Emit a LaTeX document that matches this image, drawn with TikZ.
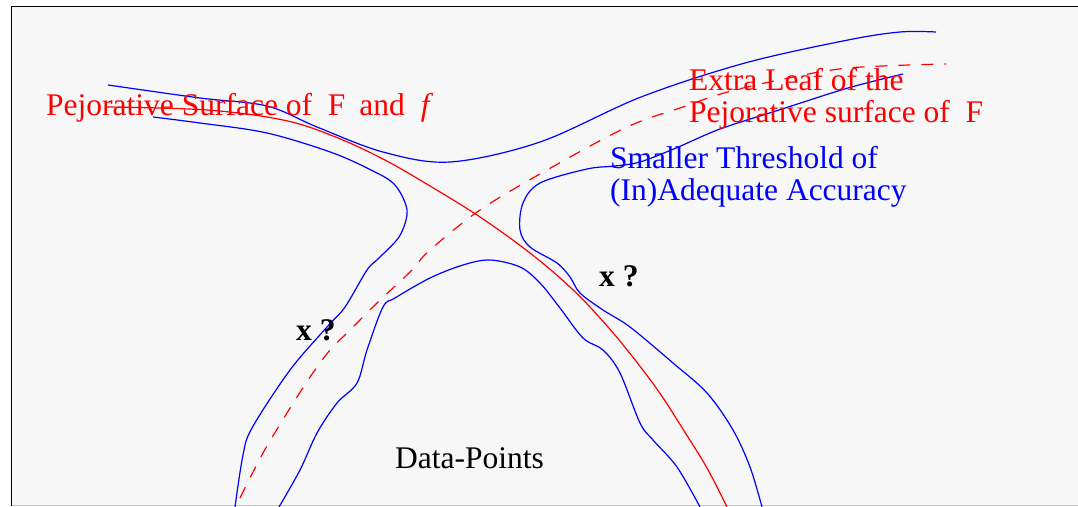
\documentclass[tikz,border=0pt]{standalone}
\usepackage{fontspec}
\setmainfont{Liberation Serif}
\definecolor{bgc}{HTML}{F7F7F7}
\definecolor{edgegray}{HTML}{C8C8C8}
\begin{document}
\begin{tikzpicture}[x=1pt,y=-1pt,
  bl/.style={draw=blue, line width=1.2pt},
  rd/.style={draw=red, line width=1.2pt},
  rdash/.style={draw=red, line width=1.2pt, dash pattern=on 12pt off 11pt},
  txt/.style={inner sep=0pt, anchor=base west, font=\fontsize{31.5}{32}\selectfont, align=left},
  redtxt/.style={txt, text=red},
  bluetxt/.style={txt, text=blue},
  qtxt/.style={txt, text=black, font=\fontsize{31.5}{32}\selectfont\bfseries}
]
\useasboundingbox (0,0) rectangle (1078,506);
\fill[bgc] (11.5,6.5) rectangle (1078,505);
\draw[black, line width=1.4pt] (11.5,506) -- (11.5,6.5) -- (1078,6.5);
\draw[edgegray, line width=1pt] (11.5,505.5) -- (1078,505.5);

% outer upper blue curve
\draw[bl] plot[smooth, tension=0.55] coordinates {(108,85) (200,98) (267,106) (317,127) (383,152) (450,162) (540,142) (641,97) (745,63) (848,40) (900,32) (936,32)};
% left blue curve
\draw[bl] plot[smooth, tension=0.55] coordinates {(153,117) (200,123) (267,133) (333,153) (377,173) (394,184) (404,200) (407,215) (399,237) (379,258) (367,270) (345,307) (327,327) (290,370) (252,428) (243,455) (235,507)};
% inner arch
\draw[bl] plot[smooth, tension=0.55] coordinates {(279,507) (300,470) (317,433) (337,403) (357,383) (367,350) (383,307) (395,298) (430,278) (463,265) (490,260) (520,267) (540,283) (560,308) (583,338) (603,350) (620,373) (640,423) (653,440) (677,467) (700,507)};
% right blue curve
\draw[bl] plot[smooth, tension=0.55] coordinates {(762,507) (750,467) (733,430) (707,393) (673,363) (630,327) (603,310) (580,293) (570,277) (557,263) (530,247) (520,230) (523,203) (540,183) (587,169) (615,166) (640,162) (676,148) (720,129) (779,110) (848,88) (903,74)};
% red solid curve
\draw[rd] plot[smooth, tension=0.6] coordinates {(107,107) (207,110) (283,120) (333,136) (383,159) (430,186) (480,217) (530,253) (570,287) (600,318) (628,351) (659,392) (686,434) (707,468) (727,507)};
% red dashed curve
\draw[rdash] plot[smooth, tension=0.55] coordinates {(240,498) (263,453) (287,413) (310,377) (330,350) (347,333) (377,303) (410,272) (430,250) (480,210) (547,170) (627,127) (683,107) (724,93) (779,80) (848,68) (946,64)};

\node[redtxt] (pej) at (46,115) {Pejorative Surface of\ \ F\hspace{14pt}and\hspace{16pt}\textit{f}};
\node[redtxt] (leaf) at (689,122.7) {Extra Leaf of the\\Pejorative surface of\ \ F};
\node[bluetxt] (thr) at (610,200) {Smaller Threshold of\\(In)Adequate Accuracy};
\node[qtxt] (x1) at (296,340) {x ?};
\node[qtxt] (x2) at (599,286.7) {x ?};
\node[txt] (dp) at (395,468.5) {Data-Points};
\end{tikzpicture}
\end{document}
